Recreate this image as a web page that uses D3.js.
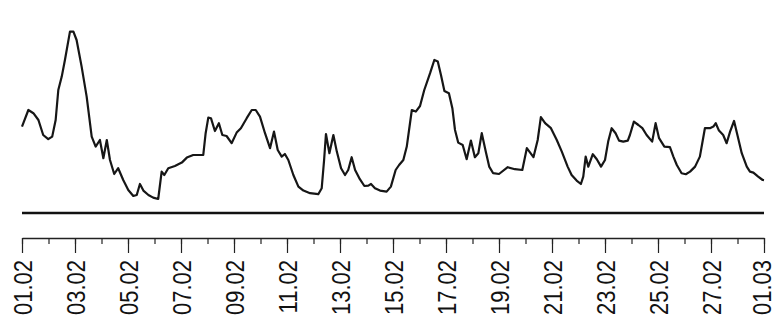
<!DOCTYPE html>
<meta charset="utf-8">
<script src="https://d3js.org/d3.v7.min.js"></script>
<style>
  body { margin: 0; background: #fff; }
  svg { display: block; }
  .tick text { font-family: "Liberation Sans", Arial, sans-serif; }
</style>
<body>
<svg width=773 height=326></svg>
<script>
// time of each reading, in days after 01.02 00:00
var days = [0.00, 0.24, 0.43, 0.62, 0.80, 0.99, 1.14, 1.27, 1.37, 1.50,
  1.62, 1.81, 1.94, 2.06, 2.25, 2.44, 2.63, 2.78, 2.94, 3.07,
  3.20, 3.32, 3.48, 3.63, 3.82, 4.01, 4.20, 4.33, 4.45, 4.58,
  4.77, 4.95, 5.14, 5.27, 5.37, 5.52, 5.77, 6.03, 6.22, 6.46,
  6.84, 6.93, 7.03, 7.13, 7.28, 7.43, 7.56, 7.72, 7.91, 8.10,
  8.26, 8.48, 8.67, 8.82, 8.98, 9.17, 9.36, 9.51, 9.65, 9.80,
  9.92, 10.05, 10.24, 10.43, 10.62, 10.87, 11.18, 11.31, 11.40, 11.47,
  11.60, 11.75, 11.88, 12.04, 12.19, 12.31, 12.44, 12.57, 12.75, 12.92,
  13.07, 13.17, 13.32, 13.51, 13.76, 13.92, 14.10, 14.23, 14.39, 14.52,
  14.71, 14.86, 15.02, 15.18, 15.40, 15.56, 15.69, 15.81, 15.94, 16.11,
  16.24, 16.34, 16.46, 16.63, 16.78, 16.94, 17.09, 17.22, 17.35, 17.50,
  17.63, 17.78, 18.00, 18.33, 18.60, 18.88, 19.05, 19.30, 19.46, 19.58,
  19.74, 19.96, 20.18, 20.37, 20.59, 20.74, 20.93, 21.09, 21.18, 21.27,
  21.37, 21.54, 21.69, 21.85, 22.00, 22.12, 22.25, 22.40, 22.53, 22.69,
  22.86, 22.94, 23.09, 23.26, 23.41, 23.57, 23.78, 23.91, 24.04, 24.24,
  24.45, 24.58, 24.71, 24.89, 25.05, 25.21, 25.40, 25.58, 25.67, 25.77,
  25.96, 26.09, 26.18, 26.30, 26.46, 26.59, 26.72, 26.87, 27.01, 27.16,
  27.35, 27.47, 27.60, 27.78, 27.95, 28.00];

var values = [43.2, 51.5, 49.9, 46.5, 39.0, 36.9, 38.2, 46.5, 61.5, 68.2,
  76.5, 90.7, 90.7, 86.5, 73.2, 58.2, 38.2, 33.2, 36.5, 27.4,
  36.5, 26.5, 19.5, 22.4, 16.5, 11.5, 8.5, 9.0, 14.5, 11.2,
  9.0, 7.7, 7.0, 20.7, 19.0, 22.4, 23.5, 25.2, 27.7, 29.0,
  29.0, 39.9, 47.7, 47.4, 41.0, 44.9, 39.0, 38.5, 34.9, 40.2,
  42.4, 47.4, 51.5, 51.5, 48.2, 39.9, 32.4, 40.7, 31.5, 28.2,
  29.5, 26.5, 19.0, 13.2, 11.2, 9.9, 9.4, 12.4, 26.5, 39.5,
  29.9, 39.0, 30.7, 22.4, 19.0, 21.5, 27.9, 21.5, 16.9, 13.5,
  13.7, 14.5, 12.4, 11.2, 10.7, 13.2, 21.5, 24.0, 26.5, 33.2,
  51.5, 50.7, 53.5, 61.5, 69.9, 76.5, 75.7, 69.0, 61.0, 59.9,
  52.4, 41.5, 35.2, 34.0, 26.9, 36.2, 27.9, 29.9, 39.9, 30.7,
  23.2, 19.9, 19.5, 22.9, 21.9, 21.5, 32.4, 27.9, 36.5, 47.9,
  44.9, 42.4, 36.5, 30.7, 23.2, 19.0, 16.2, 14.5, 18.2, 28.2,
  23.2, 29.4, 26.9, 23.2, 26.5, 35.7, 42.4, 39.9, 36.2, 35.7,
  36.2, 39.0, 45.7, 44.0, 42.4, 39.0, 35.7, 44.9, 37.4, 33.2,
  32.9, 28.2, 24.0, 19.9, 19.4, 20.7, 23.2, 28.2, 34.9, 42.4,
  42.4, 43.2, 44.9, 41.2, 39.0, 34.9, 40.7, 46.0, 38.2, 29.9,
  23.2, 20.7, 20.2, 18.2, 16.5, 16.4];

var startDate = Date.UTC(2021, 1, 1);
var endDate = Date.UTC(2021, 2, 1);
var labelFormat = d3.utcFormat("%d.%m");

var svg = d3.select("svg");

var x = d3.scaleUtc().domain([startDate, endDate]).range([22, 764]);
var y = d3.scaleLinear().domain([0, 100]).range([213, 13]);

var data = days.map(function(d, i) {
  return { date: new Date(startDate + d * 864e5), value: values[i] };
});

// reference line at zero
svg.append("line")
  .attr("x1", x(startDate)).attr("x2", x(endDate))
  .attr("y1", y(0)).attr("y2", y(0))
  .attr("stroke", "#111")
  .attr("stroke-width", 2.4);

var line = d3.line()
  .x(function(d) { return x(d.date); })
  .y(function(d) { return y(d.value); });

svg.append("path")
  .datum(data)
  .attr("fill", "none")
  .attr("stroke", "#161616")
  .attr("stroke-width", 2.2)
  .attr("stroke-linejoin", "round")
  .attr("d", line);

// minor ticks, every day
svg.append("g")
  .attr("transform", "translate(0,238)")
  .call(d3.axisBottom(x).ticks(d3.utcDay.every(1)).tickSize(6).tickSizeOuter(0).tickFormat(""))
  .call(function(g) {
    g.select(".domain").attr("stroke", "#222").attr("stroke-width", 1.3);
    g.selectAll(".tick line").attr("stroke", "#222").attr("stroke-width", 1.2);
  });

// major ticks with labels, every second day
var major = svg.append("g")
  .attr("transform", "translate(0,238)")
  .call(d3.axisBottom(x).ticks(d3.utcDay.every(2)).tickSize(15).tickSizeOuter(0).tickFormat(labelFormat));

major.select(".domain").remove();
major.selectAll(".tick line").attr("stroke", "#222").attr("stroke-width", 1.2);
major.selectAll(".tick text")
  .attr("fill", "#111")
  .style("font-size", "22px")
  .attr("text-anchor", "end")
  .attr("x", 0).attr("y", 0).attr("dy", 0)
  .attr("transform", function(d) {
    // last label sits on the right edge, nudge it inside
    var dx = +d === endDate ? -3 : 0;
    return "translate(" + dx + ",22) rotate(-90) scale(1,1.15) translate(0,8)";
  });
</script>
</body>
